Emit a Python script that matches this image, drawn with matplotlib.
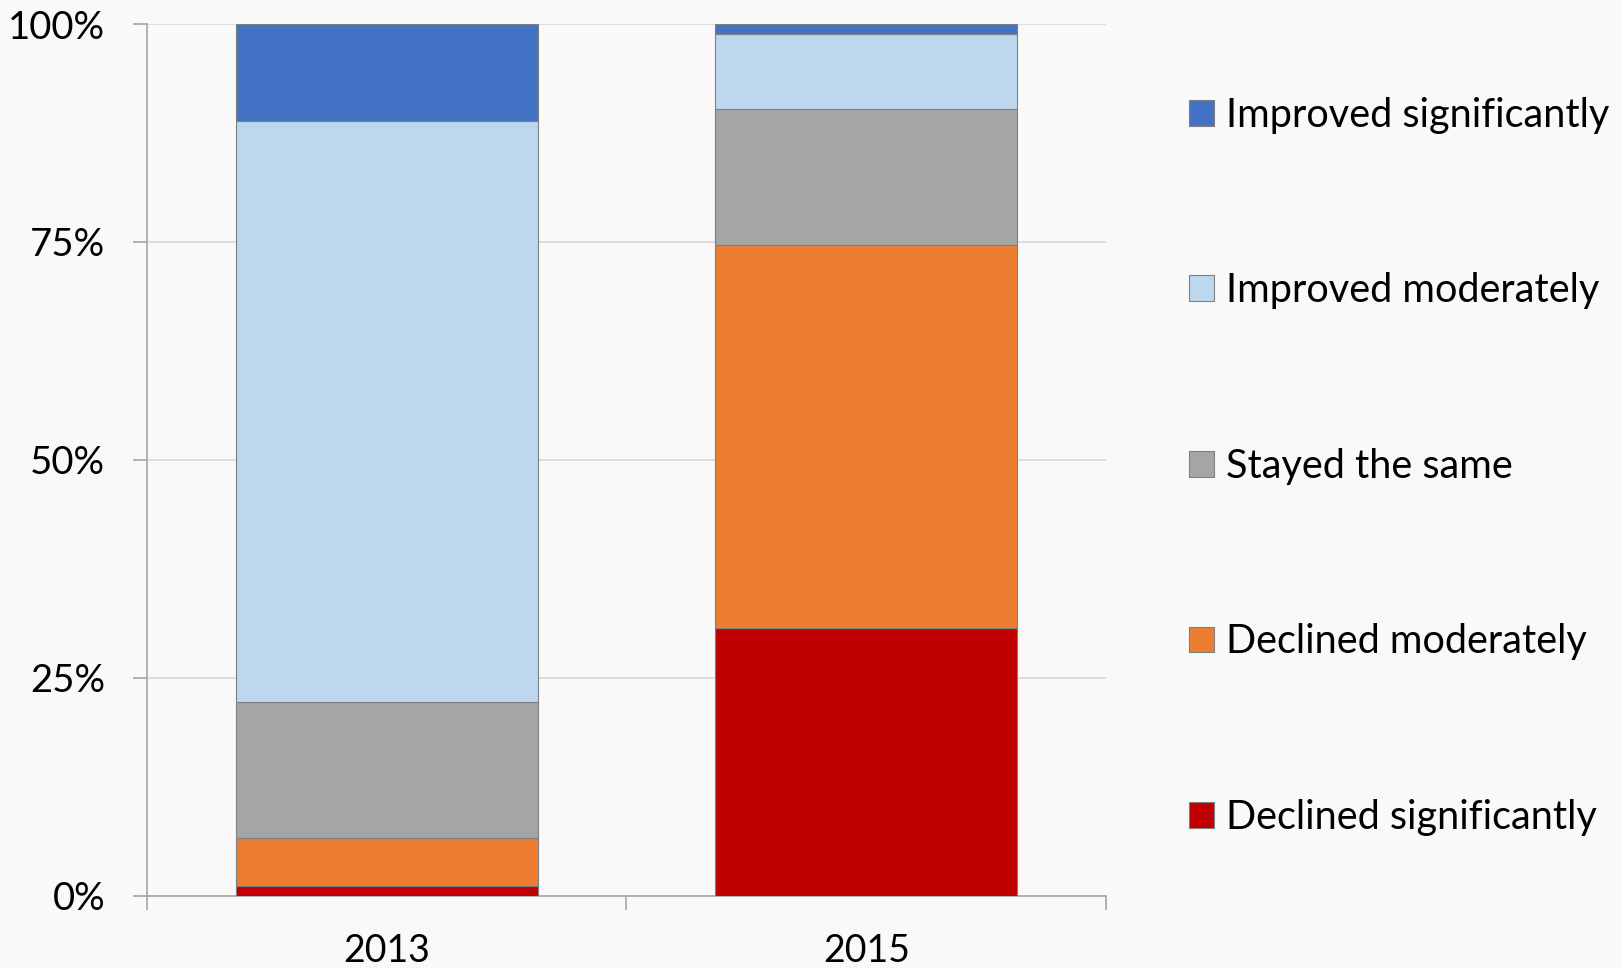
import numpy as np
import matplotlib.pyplot as plt
from matplotlib.ticker import PercentFormatter

# data (percent of respondents)
years = ["2013", "2015"]
categories = ["Declined significantly", "Declined moderately", "Stayed the same",
              "Improved moderately", "Improved significantly"]
declined_sig = [1.1, 30.7]
declined_mod = [5.6, 44.0]
stayed_same = [15.5, 15.5]
improved_mod = [66.7, 8.7]
improved_sig = [11.1, 1.1]
series = [declined_sig, declined_mod, stayed_same, improved_mod, improved_sig]
colors = ["#C00000", "#ED7D31", "#A5A5A5", "#BDD7EE", "#4472C4"]

plt.rcParams['font.family'] = ['Lato', 'DejaVu Sans']
bg = "#f9f9f9"

fig = plt.figure(figsize=(16.22, 9.68), dpi=100)
fig.patch.set_facecolor(bg)
ax = fig.add_axes([0.0906, 0.0744, 0.5913, 0.9008])
ax.set_facecolor(bg)

x = np.arange(len(years))
bottom = np.zeros(len(years))
handles = []
for vals, col, name in zip(series, colors, categories):
    b = ax.bar(x, vals, 0.63, bottom=bottom, color=col, edgecolor="#7f7f7f",
               linewidth=0.8, label=name, zorder=3)
    handles.append(b)
    bottom += np.array(vals)

ax.set_xlim(-0.5, 1.5)
ax.set_ylim(0, 100)
ax.set_yticks([0, 25, 50, 75, 100])
ax.yaxis.set_major_formatter(PercentFormatter(decimals=0))
ax.grid(axis='y', color="#d9d9d9", linewidth=1.2, zorder=0)

ax.set_xticks(x)
ax.set_xticklabels(years)
ax.set_xticks([-0.5, 0.5, 1.5], minor=True)
ax.tick_params(axis='x', which='major', length=0, labelsize=27, pad=27)
ax.tick_params(axis='x', which='minor', length=10, color="#a6a6a6", width=1.2)
ax.tick_params(axis='y', length=10, color="#a6a6a6", width=1.2, labelsize=27.5, pad=20)

for s in ['top', 'right']:
    ax.spines[s].set_visible(False)
for s in ['left', 'bottom']:
    ax.spines[s].set_color("#a6a6a6")
    ax.spines[s].set_linewidth(1.2)

leg = fig.legend(handles[::-1], categories[::-1], loc='upper left',
                 bbox_to_anchor=(0.733, 0.900), frameon=False, fontsize=28.5,
                 handlelength=0.63, handleheight=0.63, handletextpad=0.3,
                 labelspacing=3.5, borderaxespad=0, borderpad=0)

fig.savefig("out.png", dpi=100, facecolor=bg)
